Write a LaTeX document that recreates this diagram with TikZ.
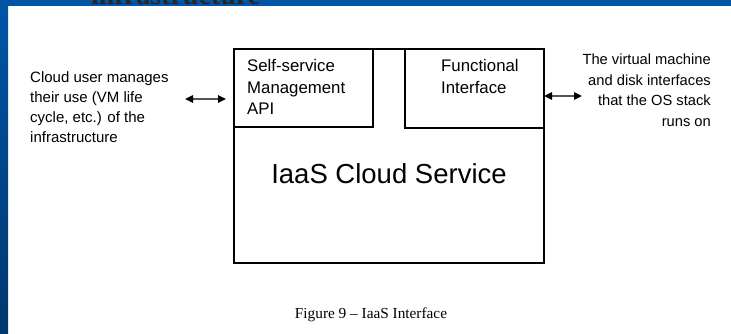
\documentclass[tikz,border=0pt]{standalone}
\usepackage{fontspec}
\setmainfont{Liberation Sans}
\newfontfamily\capfont{Liberation Serif}
\usetikzlibrary{arrows.meta}
\definecolor{slideblue}{HTML}{0055A6}
\definecolor{slidedark}{HTML}{00376E}
\definecolor{arrowgray}{HTML}{555555}
\tikzset{
  boxline/.style={draw=black, line width=1.6pt, inner sep=0pt, outer sep=0pt, anchor=north west},
  boxtext/.style={anchor=base west, align=left, inner sep=0pt, font=\fontsize{16.8}{21.7}\selectfont},
  sidetext/.style={inner sep=0pt, font=\fontsize{15}{20}\selectfont},
  biarrow/.style={draw=arrowgray, line width=1.3pt, arrows={Triangle[length=8pt,width=7.5pt,color=black]-Triangle[length=8pt,width=7.5pt,color=black]}}
}
\begin{document}
\begin{tikzpicture}[x=1pt,y=-1pt]
\useasboundingbox (0,0) rectangle (731,334);
\fill[white] (0,0) rectangle (731,334);
% slide frame
\shade[top color=slideblue, bottom color=slidedark] (0,0) rectangle (8,334);
\fill[slideblue] (0,0) rectangle (731,6);
\begin{scope}
  \clip (0,0) rectangle (731,6);
  \node[anchor=base west, inner sep=0pt, text=black!85, font=\capfont\bfseries\fontsize{28}{30}\selectfont] (head) at (91,5) {infrastructure};
\end{scope}
% boxes
\node[boxline, minimum width=310pt, minimum height=214pt] (svc) at (234,49) {};
\node[boxline, minimum width=139pt, minimum height=78pt] (self) at (234,49) {};
\node[boxline, minimum width=139pt, minimum height=79pt] (func) at (405,49) {};
% texts (base anchor = baseline of the last line)
\node[boxtext] (selftext) at (247,115) {Self-service\\Management\\API};
\node[boxtext] (functext) at (441,93.4) {Functional\\Interface};
\node[anchor=base, inner sep=0pt, font=\fontsize{27.5}{30}\selectfont] (title) at (389,183.5) {IaaS Cloud Service};
\node[sidetext, anchor=base west, align=left] (user) at (30,142.3) {Cloud user manages\\their use (VM life\\cycle, etc.) of the\\infrastructure};
\node[sidetext, anchor=base east, align=right, font=\fontsize{14.7}{20.5}\selectfont] (vm) at (711,126.5) {The virtual machine\\and disk interfaces\\that the OS stack\\runs on};
% arrows
\coordinate (la) at (185,99);
\coordinate (lb) at (226,99);
\coordinate (rb) at (582,96);
\draw[biarrow] (la) -- (lb);
\draw[biarrow] (svc.east |- rb) -- (rb);
% caption
\node[anchor=base, inner sep=0pt, font=\capfont\fontsize{15.3}{18}\selectfont] (cap) at (371,318) {Figure 9 – IaaS Interface};
\end{tikzpicture}
\end{document}
